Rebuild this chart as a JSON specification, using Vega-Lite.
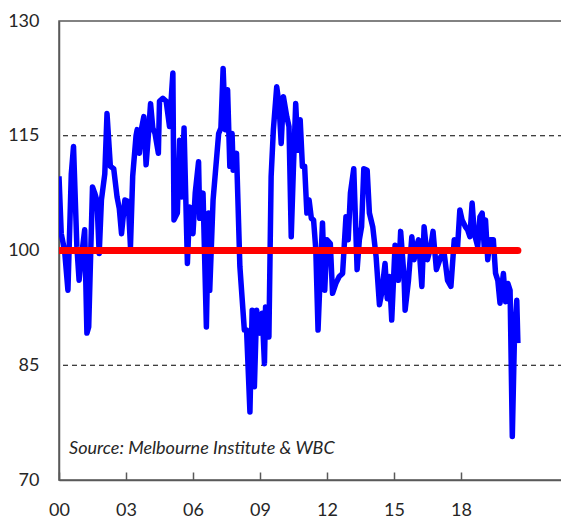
{
  "$schema": "https://vega.github.io/schema/vega-lite/v6.json",
  "width": 504,
  "height": 459,
  "autosize": {"type": "none"},
  "padding": {"left": 59, "top": 21, "right": 0, "bottom": 38},
  "background": "white",
  "config": {
    "view": {"stroke": "#595959", "strokeWidth": 1.5},
    "font": "Lato"
  },
  "datasets": {
    "grid": [{"v": 85}, {"v": 115}],
    "ref": [{"t": 2000, "v": 100}, {"t": 2020.55, "v": 100}],
    "note": [{"t": 2000.45, "v": 74.1, "label": "Source: Melbourne Institute & WBC"}],
    "series": [
      {"t": 2000.0, "v": 109.7}, {"t": 2000.1, "v": 102.2}, {"t": 2000.25, "v": 100}, {"t": 2000.4, "v": 94.8},
      {"t": 2000.55, "v": 110}, {"t": 2000.65, "v": 113.6}, {"t": 2000.8, "v": 100.5}, {"t": 2000.9, "v": 96.1},
      {"t": 2001.0, "v": 99}, {"t": 2001.15, "v": 102.7}, {"t": 2001.25, "v": 89.2}, {"t": 2001.33, "v": 90},
      {"t": 2001.5, "v": 108.3}, {"t": 2001.6, "v": 107.5}, {"t": 2001.7, "v": 106.5}, {"t": 2001.8, "v": 99.6},
      {"t": 2001.9, "v": 106.6}, {"t": 2002.05, "v": 110}, {"t": 2002.15, "v": 117.9}, {"t": 2002.3, "v": 111},
      {"t": 2002.45, "v": 110.7}, {"t": 2002.6, "v": 107}, {"t": 2002.7, "v": 105.5}, {"t": 2002.8, "v": 102.2},
      {"t": 2002.95, "v": 106.6}, {"t": 2003.1, "v": 106.4}, {"t": 2003.2, "v": 100.5}, {"t": 2003.3, "v": 109.7},
      {"t": 2003.45, "v": 115}, {"t": 2003.5, "v": 115.8}, {"t": 2003.6, "v": 112.7}, {"t": 2003.7, "v": 116},
      {"t": 2003.8, "v": 117.5}, {"t": 2003.9, "v": 111.2}, {"t": 2004.0, "v": 115}, {"t": 2004.1, "v": 119.2},
      {"t": 2004.2, "v": 116}, {"t": 2004.3, "v": 115.3}, {"t": 2004.45, "v": 112.7}, {"t": 2004.5, "v": 119.5},
      {"t": 2004.65, "v": 119.9}, {"t": 2004.8, "v": 119.5}, {"t": 2004.95, "v": 116.2}, {"t": 2005.05, "v": 121},
      {"t": 2005.1, "v": 123.2}, {"t": 2005.15, "v": 104}, {"t": 2005.3, "v": 104.9}, {"t": 2005.4, "v": 114.4},
      {"t": 2005.5, "v": 107}, {"t": 2005.6, "v": 116}, {"t": 2005.75, "v": 98.3}, {"t": 2005.85, "v": 105.7},
      {"t": 2006.0, "v": 102.2}, {"t": 2006.1, "v": 107.5}, {"t": 2006.25, "v": 111.6}, {"t": 2006.3, "v": 104.2},
      {"t": 2006.45, "v": 107.5}, {"t": 2006.6, "v": 90}, {"t": 2006.7, "v": 104.9}, {"t": 2006.75, "v": 94.8},
      {"t": 2006.9, "v": 106.6}, {"t": 2007.15, "v": 115.3}, {"t": 2007.25, "v": 116}, {"t": 2007.35, "v": 123.8},
      {"t": 2007.45, "v": 115.8}, {"t": 2007.55, "v": 121}, {"t": 2007.65, "v": 111}, {"t": 2007.75, "v": 115.3},
      {"t": 2007.8, "v": 110.5}, {"t": 2007.95, "v": 112.7}, {"t": 2008.1, "v": 97.9}, {"t": 2008.3, "v": 89.6},
      {"t": 2008.4, "v": 89.6}, {"t": 2008.55, "v": 78.9}, {"t": 2008.65, "v": 92.2}, {"t": 2008.75, "v": 82.2},
      {"t": 2008.85, "v": 92.2}, {"t": 2009.0, "v": 89.2}, {"t": 2009.1, "v": 91.8}, {"t": 2009.2, "v": 85.2},
      {"t": 2009.25, "v": 92.6}, {"t": 2009.4, "v": 88.7}, {"t": 2009.5, "v": 109.7}, {"t": 2009.6, "v": 115.8},
      {"t": 2009.75, "v": 121.4}, {"t": 2009.85, "v": 119.2}, {"t": 2009.95, "v": 114}, {"t": 2010.05, "v": 120.1},
      {"t": 2010.2, "v": 117.5}, {"t": 2010.3, "v": 116.2}, {"t": 2010.4, "v": 101.8}, {"t": 2010.5, "v": 111},
      {"t": 2010.6, "v": 119.2}, {"t": 2010.7, "v": 113.1}, {"t": 2010.8, "v": 117.1}, {"t": 2010.9, "v": 111},
      {"t": 2011.0, "v": 111}, {"t": 2011.1, "v": 104.9}, {"t": 2011.2, "v": 106.6}, {"t": 2011.3, "v": 104.2},
      {"t": 2011.4, "v": 104}, {"t": 2011.5, "v": 100.1}, {"t": 2011.6, "v": 89.6}, {"t": 2011.7, "v": 97},
      {"t": 2011.8, "v": 103.6}, {"t": 2011.9, "v": 94.8}, {"t": 2012.0, "v": 101.4}, {"t": 2012.15, "v": 100.9},
      {"t": 2012.25, "v": 94.4}, {"t": 2012.4, "v": 95.7}, {"t": 2012.55, "v": 96.6}, {"t": 2012.7, "v": 97},
      {"t": 2012.85, "v": 104.4}, {"t": 2012.95, "v": 101.4}, {"t": 2013.05, "v": 107.5}, {"t": 2013.2, "v": 110.7},
      {"t": 2013.35, "v": 97.5}, {"t": 2013.45, "v": 101.4}, {"t": 2013.55, "v": 103.1}, {"t": 2013.65, "v": 110.7},
      {"t": 2013.8, "v": 110.5}, {"t": 2013.9, "v": 104.9}, {"t": 2014.05, "v": 103.1}, {"t": 2014.2, "v": 99.2},
      {"t": 2014.35, "v": 92.9}, {"t": 2014.45, "v": 94.4}, {"t": 2014.6, "v": 98.3}, {"t": 2014.7, "v": 93.7},
      {"t": 2014.8, "v": 96.6}, {"t": 2014.9, "v": 90.9}, {"t": 2015.05, "v": 100.7}, {"t": 2015.12, "v": 100.5},
      {"t": 2015.2, "v": 96.1}, {"t": 2015.3, "v": 102.5}, {"t": 2015.45, "v": 96.6}, {"t": 2015.5, "v": 92.2},
      {"t": 2015.65, "v": 96.1}, {"t": 2015.8, "v": 101.8}, {"t": 2015.9, "v": 98.8}, {"t": 2016.0, "v": 100.5},
      {"t": 2016.1, "v": 101.4}, {"t": 2016.25, "v": 95.3}, {"t": 2016.35, "v": 103.1}, {"t": 2016.5, "v": 98.8},
      {"t": 2016.65, "v": 100.5}, {"t": 2016.75, "v": 102.5}, {"t": 2016.9, "v": 97.5}, {"t": 2017.1, "v": 99.2},
      {"t": 2017.25, "v": 99.6}, {"t": 2017.4, "v": 96.1}, {"t": 2017.55, "v": 95.3}, {"t": 2017.7, "v": 101.4},
      {"t": 2017.85, "v": 100.5}, {"t": 2017.95, "v": 105.3}, {"t": 2018.05, "v": 104}, {"t": 2018.2, "v": 103.1},
      {"t": 2018.3, "v": 102.7}, {"t": 2018.4, "v": 101.8}, {"t": 2018.5, "v": 106.2}, {"t": 2018.6, "v": 102.2},
      {"t": 2018.75, "v": 100.5}, {"t": 2018.85, "v": 104.4}, {"t": 2018.95, "v": 104.9}, {"t": 2019.05, "v": 100.1},
      {"t": 2019.1, "v": 104}, {"t": 2019.2, "v": 98.8}, {"t": 2019.3, "v": 101.4}, {"t": 2019.45, "v": 101.4},
      {"t": 2019.55, "v": 97}, {"t": 2019.65, "v": 96.1}, {"t": 2019.75, "v": 93.1}, {"t": 2019.9, "v": 97},
      {"t": 2020.0, "v": 93.3}, {"t": 2020.1, "v": 95.7}, {"t": 2020.2, "v": 94.8}, {"t": 2020.3, "v": 75.7},
      {"t": 2020.4, "v": 89.2}, {"t": 2020.5, "v": 93.5}, {"t": 2020.55, "v": 87.9}
    ]
  },
  "layer": [
    {
      "data": {"name": "grid"},
      "mark": {"type": "rule", "stroke": "#000000", "strokeDash": [5, 4], "strokeWidth": 1},
      "encoding": {
        "y": {
          "field": "v", "type": "quantitative",
          "scale": {"domain": [70, 130], "nice": false, "zero": false},
          "axis": {
            "title": null, "values": [70, 85, 100, 115, 130], "grid": false,
            "ticks": false, "domain": true, "domainColor": "#595959", "domainWidth": 1.5,
            "labelPadding": 20, "labelFontSize": 18, "labelColor": "#262626", "labelFont": "Lato"
          }
        }
      }
    },
    {
      "data": {"name": "series"},
      "mark": {"type": "line", "color": "#0000FF", "strokeWidth": 5.5, "strokeJoin": "round", "clip": true},
      "encoding": {
        "x": {
          "field": "t", "type": "quantitative",
          "scale": {"domain": [2000, 2022.57], "nice": false, "zero": false},
          "axis": {
            "title": null, "values": [2000, 2003, 2006, 2009, 2012, 2015, 2018],
            "format": "d", "labelExpr": "substring(datum.label, 2)",
            "grid": false, "domain": true, "domainColor": "#595959", "domainWidth": 1.5,
            "ticks": true, "tickSize": -8, "tickColor": "#595959", "tickWidth": 1.5,
            "labelPadding": 43, "labelFontSize": 18, "labelColor": "#262626", "labelFont": "Lato",
            "labelBaseline": "alphabetic", "labelFlush": false
          }
        },
        "y": {
          "field": "v", "type": "quantitative",
          "scale": {"domain": [70, 130], "nice": false, "zero": false},
          "axis": {
            "title": null, "values": [70, 85, 100, 115, 130], "grid": false,
            "ticks": false, "domain": true, "domainColor": "#595959", "domainWidth": 1.5,
            "labelPadding": 20, "labelFontSize": 18, "labelColor": "#262626", "labelFont": "Lato"
          }
        }
      }
    },
    {
      "data": {"name": "ref"},
      "mark": {"type": "line", "color": "#FF0000", "strokeWidth": 7, "strokeCap": "round", "clip": true},
      "encoding": {
        "x": {"field": "t", "type": "quantitative"},
        "y": {"field": "v", "type": "quantitative"}
      }
    },
    {
      "data": {"name": "note"},
      "mark": {"type": "text", "align": "left", "baseline": "middle", "fontStyle": "italic", "fontSize": 18, "font": "Lato", "color": "#262626"},
      "encoding": {
        "x": {"field": "t", "type": "quantitative"},
        "y": {"field": "v", "type": "quantitative"},
        "text": {"field": "label"}
      }
    }
  ]
}
